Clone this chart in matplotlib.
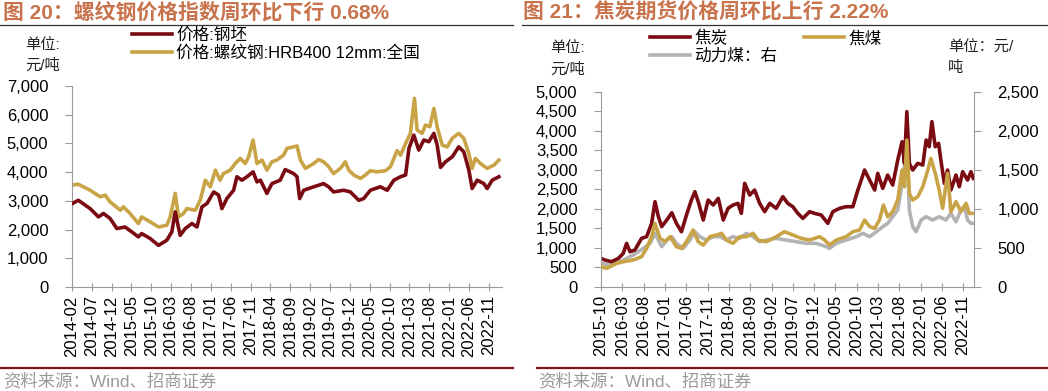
import matplotlib
matplotlib.use("Agg")
import matplotlib.pyplot as plt
import matplotlib.dates as mdates
from matplotlib.ticker import FuncFormatter, MultipleLocator
import pandas as pd

plt.rcParams['font.family'] = ['Liberation Sans', 'Noto Sans CJK SC', 'DejaVu Sans']

# ---------------- Chart 20 data ----------------
rebar_dates = ["2014-02-01","2014-03-21","2014-06-20","2014-09-05","2014-10-13","2014-11-20","2015-02-06",
    "2015-03-02","2015-04-22","2015-06-25","2015-07-20","2015-09-23","2015-11-26","2016-01-29","2016-02-24",
    "2016-04-02","2016-04-27","2016-06-05","2016-06-30","2016-09-03","2016-10-11","2016-11-19","2016-12-27",
    "2017-02-04","2017-03-12","2017-04-07","2017-05-29","2017-07-06","2017-08-14","2017-09-21","2017-10-17",
    "2017-11-20","2017-12-20","2018-01-28","2018-03-06","2018-04-13","2018-05-21","2018-07-11","2018-08-07",
    "2018-09-27","2018-10-23","2018-11-18","2018-12-26","2019-02-28","2019-04-06","2019-05-14","2019-06-22",
    "2019-07-30","2019-09-20","2019-10-28","2019-11-23","2020-01-01","2020-02-21","2020-03-30","2020-05-07",
    "2020-06-27","2020-08-31","2020-10-08","2020-11-28","2020-12-24","2021-02-01","2021-03-10","2021-04-10",
    "2021-04-30","2021-06-08","2021-07-03","2021-08-06","2021-09-06","2021-10-01","2021-11-09","2021-12-17",
    "2022-01-25","2022-03-15","2022-04-23","2022-06-01","2022-06-26","2022-07-21","2022-08-29","2022-10-19",
    "2022-12-10","2023-01-17"]
rebar_values = [3550,3580,3370,3140,3200,2965,2675,2790,2560,2210,2440,2270,2090,2150,2440,
    3260,2440,2560,2730,2675,3020,3720,3490,4070,3720,3950,4070,4300,4480,4300,4535,
    5120,4300,4420,4070,4360,4420,4590,4830,4880,4910,4420,4130,4300,4440,4360,4190,
    3950,4130,4360,4070,3900,3780,3900,4050,4010,4050,4190,4750,4590,5000,5350,6570,
    5470,5350,5640,5580,6220,5580,4940,4880,5180,5350,5180,4650,4130,4480,4300,4130,
    4245,4420]

billet_dates = ["2014-02-01","2014-03-21","2014-06-20","2014-08-23","2014-09-30","2014-11-20","2015-01-11",
    "2015-03-14","2015-05-05","2015-06-25","2015-07-20","2015-09-23","2015-11-26","2016-01-29","2016-03-07",
    "2016-04-02","2016-05-10","2016-06-18","2016-08-08","2016-09-16","2016-10-24","2016-12-02","2017-01-22",
    "2017-03-01","2017-03-26","2017-05-03","2017-06-24","2017-07-19","2017-08-27","2017-10-04","2017-11-20",
    "2017-12-20","2018-01-15","2018-03-06","2018-04-13","2018-06-16","2018-07-24","2018-09-27","2018-10-23",
    "2018-11-12","2018-12-13","2019-02-28","2019-05-14","2019-06-22","2019-07-30","2019-10-15","2019-12-06",
    "2020-02-08","2020-03-17","2020-05-07","2020-07-22","2020-09-13","2020-11-03","2020-12-24","2021-02-01",
    "2021-02-27","2021-04-05","2021-05-13","2021-06-21","2021-07-29","2021-09-06","2021-10-01","2021-10-27",
    "2021-12-04","2022-01-25","2022-03-15","2022-04-23","2022-06-01","2022-06-26","2022-08-04","2022-09-24",
    "2022-10-19","2022-11-27","2023-01-17"]
billet_values = [2900,3020,2730,2440,2560,2385,2035,2090,1920,1745,1860,1690,1450,1630,1920,
    2615,1800,2035,2210,2090,2790,2910,3310,3200,2730,3080,3370,3840,3720,3840,4010,
    3660,3720,3260,3600,3720,4090,3950,3840,3080,3370,3490,3600,3490,3310,3370,3310,
    3020,3080,3370,3490,3370,3720,3840,3900,4830,5290,4770,5120,5060,5350,4940,4165,
    4360,4535,4880,4710,4070,3430,3720,3600,3430,3720,3840]

left_ticks_start, left_ticks_end = "2014-02-01", "2022-11-01"

# ---------------- Chart 21 data ----------------
coke_dates = ["2015-10-01","2015-10-29","2015-12-16","2016-02-02","2016-03-08","2016-04-01","2016-04-25",
    "2016-05-30","2016-07-17","2016-08-22","2016-09-27","2016-10-21","2016-11-14","2016-12-08","2017-01-13",
    "2017-02-18","2017-03-23","2017-04-28","2017-06-03","2017-07-08","2017-08-02","2017-08-26","2017-10-01",
    "2017-11-05","2017-12-11","2018-01-16","2018-02-21","2018-03-27","2018-05-01","2018-06-06","2018-06-30",
    "2018-07-24","2018-08-29","2018-10-03","2018-11-08","2018-12-14","2019-01-19","2019-03-06","2019-04-23",
    "2019-05-28","2019-07-03","2019-08-08","2019-09-13","2019-10-31","2019-12-06","2020-01-22","2020-03-09",
    "2020-04-14","2020-06-01","2020-07-18","2020-09-04","2020-10-10","2020-11-27","2021-01-02","2021-02-07",
    "2021-03-01","2021-04-06","2021-05-11","2021-06-16","2021-07-22","2021-08-22","2021-09-08","2021-09-25",
    "2021-10-13","2021-11-06","2021-12-12","2022-01-17","2022-02-10","2022-03-04","2022-03-23","2022-04-16",
    "2022-05-10","2022-05-26","2022-06-20","2022-07-13","2022-08-06","2022-09-11","2022-10-05","2022-10-29",
    "2022-12-03","2022-12-27","2023-01-13"]
coke_values = [726,684,641,726,855,1111,897,940,1240,1282,1624,2180,1795,1540,1710,
    1897,1624,1410,1838,2222,2436,2180,1710,2222,2094,2265,1710,2009,2094,2137,1880,
    2650,2350,2479,2137,1923,2137,2009,2308,2137,2051,1880,1752,1923,1880,1838,1624,
    1923,2009,2051,2051,2479,2991,2735,2479,2906,2521,2863,2607,3248,3718,3162,4487,
    3162,2991,3162,3120,3761,3590,4231,3590,3675,3248,2650,2991,2479,2863,2564,2949,
    2735,2949,2778]

coal_dates = ["2015-10-01","2015-11-10","2016-01-21","2016-03-08","2016-05-18","2016-07-17","2016-08-22",
    "2016-09-27","2016-10-21","2016-11-26","2017-01-01","2017-02-06","2017-03-23","2017-04-28","2017-06-03",
    "2017-07-20","2017-08-26","2017-10-01","2017-11-17","2018-01-04","2018-02-09","2018-03-15","2018-05-01",
    "2018-06-18","2018-08-05","2018-09-22","2018-10-27","2018-12-26","2019-03-06","2019-05-05","2019-07-03",
    "2019-09-01","2019-10-31","2020-01-10","2020-02-15","2020-03-21","2020-05-08","2020-07-18","2020-09-04",
    "2020-10-22","2020-11-27","2021-01-02","2021-02-07","2021-03-13","2021-04-11","2021-05-11","2021-06-16",
    "2021-07-22","2021-08-22","2021-09-08","2021-09-25","2021-10-13","2021-11-06","2021-12-12","2022-01-17",
    "2022-02-22","2022-03-16","2022-04-16","2022-05-14","2022-06-08","2022-07-13","2022-08-06","2022-09-11",
    "2022-10-17","2022-11-22","2022-12-15","2023-01-13"]
coal_values = [513,470,598,641,684,769,983,1282,1624,1240,1154,1282,1026,983,1154,
    1453,1154,1068,1282,1325,1368,1197,1111,1282,1282,1368,1197,1154,1282,1410,1325,
    1240,1197,1282,1197,1068,1197,1282,1410,1453,1710,1540,1496,1710,2094,1795,1923,
    2222,2991,2564,3761,2393,2222,2308,2564,2991,3290,2906,2479,2009,2906,1923,2180,
    1923,2137,1880,1880]

thermal_dates = ["2015-10-01","2015-12-04","2016-02-14","2016-05-18","2016-07-29","2016-09-15","2016-10-21",
    "2016-12-08","2017-01-13","2017-02-18","2017-03-23","2017-05-10","2017-06-27","2017-08-02","2017-09-07",
    "2017-10-24","2017-12-11","2018-01-28","2018-03-15","2018-05-01","2018-06-18","2018-08-05","2018-09-22",
    "2018-11-08","2018-12-26","2019-03-06","2019-05-16","2019-07-27","2019-10-07","2019-12-17","2020-02-27",
    "2020-03-21","2020-05-08","2020-07-18","2020-09-28","2020-11-15","2021-01-02","2021-02-19","2021-04-06",
    "2021-05-11","2021-06-16","2021-07-22","2021-08-15","2021-09-08","2021-09-25","2021-10-13","2021-11-06",
    "2021-11-30","2022-01-05","2022-02-10","2022-03-28","2022-05-14","2022-07-01","2022-08-06","2022-09-11",
    "2022-10-17","2022-11-10","2022-12-03","2022-12-27","2023-01-13"]
thermal_values = [300,278,320,406,491,556,684,513,598,641,556,491,598,705,641,
    598,641,641,598,641,620,684,641,577,598,620,598,577,556,556,513,
    491,556,598,641,684,641,705,769,812,897,983,1239,1539,1902,983,769,
    705,855,897,855,897,855,940,833,983,1026,855,812,812]

right_ticks_start, right_ticks_end = "2015-10-01", "2022-11-01"

# ---------------- styling ----------------
C_RED = "#7A0B12"
C_GOLD = "#C9A447"
C_GRAY = "#B3B3B3"
C_AX = "#9A9A9A"
C_TITLE = "#C8734C"
LW = 2.6

W, H = 1048, 391
fig = plt.figure(figsize=(W / 100, H / 100), dpi=100)

def fx(px):
    return px / W

def fy(py):
    return 1 - py / H

def style_axes(ax, ticks_start, ticks_end):
    ticks = pd.date_range(ticks_start, ticks_end, freq="5MS")
    ax.set_xticks(ticks)
    ax.xaxis.set_major_formatter(mdates.DateFormatter("%Y-%m"))
    for lab in ax.get_xticklabels():
        lab.set_rotation(90)
    ax.tick_params(axis="x", direction="inout", length=6, color=C_AX, labelsize=12, pad=3)
    ax.tick_params(axis="y", direction="out", length=5, color=C_AX, labelsize=12, pad=12)
    ax.yaxis.set_major_formatter(FuncFormatter(lambda v, p: f"{int(v):,}"))
    for s in ["top", "right"]:
        ax.spines[s].set_visible(False)
    for s in ["left", "bottom"]:
        ax.spines[s].set_color(C_AX)

# ---- left chart ----
ax1 = fig.add_axes([fx(72), fy(287), fx(502 - 72), (287 - 86) / H])
l_rebar, = ax1.plot(pd.to_datetime(rebar_dates), rebar_values, color=C_GOLD, lw=LW,
                    label="价格:螺纹钢:HRB400 12mm:全国", zorder=2)
l_billet, = ax1.plot(pd.to_datetime(billet_dates), billet_values, color=C_RED, lw=LW,
                     label="价格:钢坯", zorder=3)
ax1.set_ylim(0, 7000)
ax1.yaxis.set_major_locator(MultipleLocator(1000))
ax1.set_xlim(pd.Timestamp("2014-02-01"), pd.Timestamp("2023-02-10"))
style_axes(ax1, left_ticks_start, left_ticks_end)

# ---- right chart ----
ax2 = fig.add_axes([fx(601), fy(286.7), fx(974 - 601), (286.7 - 91.7) / H])
l_coke, = ax2.plot(pd.to_datetime(coke_dates), coke_values, color=C_RED, lw=LW, label="焦炭", zorder=2)
l_coal, = ax2.plot(pd.to_datetime(coal_dates), coal_values, color=C_GOLD, lw=LW, label="焦煤", zorder=4)
ax2.set_ylim(0, 5000)
ax2.yaxis.set_major_locator(MultipleLocator(500))
ax2.set_xlim(pd.Timestamp("2015-10-01"), pd.Timestamp("2023-01-18"))
style_axes(ax2, right_ticks_start, right_ticks_end)
ax2.set_zorder(3)
ax2.patch.set_visible(False)

ax3 = ax2.twinx()
l_thermal, = ax3.plot(pd.to_datetime(thermal_dates), thermal_values, color=C_GRAY, lw=LW, label="动力煤：右")
ax3.set_ylim(0, 2500)
ax3.yaxis.set_major_locator(MultipleLocator(500))
ax3.yaxis.set_major_formatter(FuncFormatter(lambda v, p: f"{int(v):,}"))
ax3.tick_params(axis="y", direction="out", length=5, color=C_AX, labelsize=12, pad=12)
for s in ["top", "left", "bottom"]:
    ax3.spines[s].set_visible(False)
ax3.spines["right"].set_color(C_AX)
ax3.set_zorder(2)

# ---- titles, rules, source ----
title_kw = dict(color=C_TITLE, fontsize=15, fontweight="bold", va="center", ha="left",
                family=["Liberation Sans", "Noto Sans CJK SC"])
fig.text(fx(3), fy(12), "图 20：螺纹钢价格指数周环比下行 0.68%", **title_kw)
fig.text(fx(523), fy(12), "图 21：焦炭期货价格周环比上行 2.22%", **title_kw)

fig.add_artist(plt.Line2D([fx(0), fx(513)], [fy(24.5), fy(24.5)], color="#333333", lw=0.9))
fig.add_artist(plt.Line2D([fx(522), fx(1048)], [fy(24.5), fy(24.5)], color="#333333", lw=0.9))
fig.add_artist(plt.Line2D([fx(0), fx(513)], [fy(367.5), fy(367.5)], color="#7A1418", lw=1.6))
fig.add_artist(plt.Line2D([fx(537), fx(1048)], [fy(367.5), fy(367.5)], color="#7A1418", lw=1.6))

src_kw = dict(color="#9A9A9A", fontsize=12.5, va="center", ha="left")
fig.text(fx(3), fy(381), "资料来源：Wind、招商证券", **src_kw)
fig.text(fx(538), fy(381), "资料来源：Wind、招商证券", **src_kw)

unit_kw = dict(color="#222222", fontsize=11, va="center", ha="left")
fig.text(fx(25), fy(45), "单位:", **unit_kw)
fig.text(fx(25), fy(66), "元/吨", **unit_kw)
fig.text(fx(550), fy(48), "单位:", **unit_kw)
fig.text(fx(550), fy(70), "元/吨", **unit_kw)
fig.text(fx(948), fy(48), "单位：元/", **unit_kw)
fig.text(fx(948), fy(68), "吨", **unit_kw)

# ---- legends ----
leg_kw = dict(frameon=False, fontsize=12, handlelength=2.4, handletextpad=0.25,
              borderpad=0, borderaxespad=0, labelspacing=0.15, loc="upper left")
fig.legend(handles=[l_billet, l_rebar], bbox_to_anchor=(fx(132), fy(27)), **leg_kw)
fig.legend(handles=[l_coke, l_thermal, l_coal], ncol=2, columnspacing=1.6,
           bbox_to_anchor=(fx(650), fy(30)), **leg_kw)

fig.savefig("out.png", dpi=100)
